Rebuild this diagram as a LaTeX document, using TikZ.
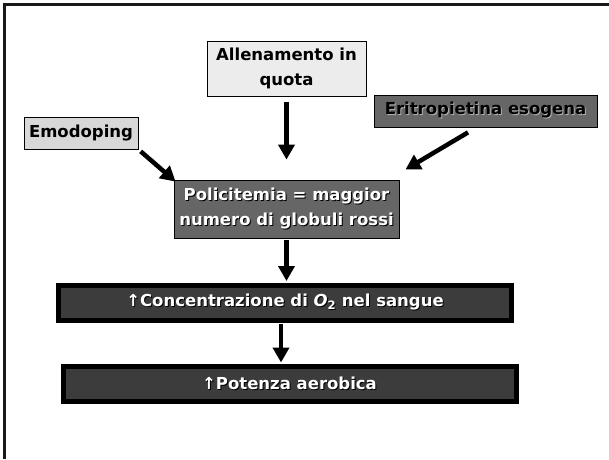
\documentclass[tikz,border=0pt]{standalone}
\usepackage{fontspec}
\setmainfont{DejaVu Sans}
\usepackage{xcolor}
\definecolor{boxlight}{RGB}{236,236,236}
\definecolor{boxpale}{RGB}{216,216,216}
\definecolor{boxmid}{RGB}{102,102,102}
\definecolor{boxdark}{RGB}{60,60,60}
\definecolor{framegray}{RGB}{25,25,25}
\usetikzlibrary{arrows.meta,positioning,calc}
\newcommand\shtext[3]{\makebox[0pt][l]{\kern1pt\raisebox{-1pt}{\color{#1}#3}}{\color{#2}#3}}

\begin{document}
\begin{tikzpicture}[x=1pt,y=-1pt,
  bx/.style={draw,line width=0.8pt,inner sep=0pt,align=center,font=\fontsize{16.5}{25}\selectfont\bfseries},
  wide/.style={bx,draw=black,line width=5pt,fill=boxdark,minimum width=453pt,minimum height=35pt},
  arr/.style={-{Triangle[width=16pt,length=15pt]},line width=4.5pt,black}]
  \useasboundingbox (0,0) rectangle (609,459);
  % slide frame
  \draw[line width=2.5pt,framegray] (4.5,459) -- (4.5,4.5) -- (609,4.5);
  \node[bx,fill=boxlight,minimum width=159pt,minimum height=55pt] (allen) at (286.5,68.5) {Allenamento in\\quota};
  \node[bx,fill=boxpale,minimum width=114pt,minimum height=32pt] (emo) at (81,133) {Emodoping};
  \node[bx,fill=boxmid,minimum width=223pt,minimum height=32pt] (eritro) at (485.5,111) {\shtext{gray!60}{black}{Eritropietina esogena}};
  \node[bx,fill=boxmid,minimum width=225pt,minimum height=58pt] (poli) at (286.5,209) {\shtext{black}{white}{Policitemia = maggior}\\\shtext{black}{white}{numero di globuli rossi}};
  \node[wide] (conc) at (285,303) {\shtext{black}{white}{↑Concentrazione di \textit{O}\textsubscript{2} nel sangue}};
  \node[wide] (pot) at (289.5,383.5) {\shtext{black}{white}{↑Potenza aerobica}};
  % causes
  \draw[arr,shorten <=6pt,shorten >=20pt] (allen.south) -- (allen.south |- poli.north);
  \draw[arr,shorten <=3pt] (emo.south east) -- ([xshift=2pt,yshift=-2pt]poli.north west);
  \draw[arr] ([xshift=-17.5pt,yshift=-5pt]eritro.south) -- ([xshift=6pt,yshift=10pt]poli.north east);
  % effects
  \draw[arr,shorten <=2pt,shorten >=2pt] (poli.south) -- (poli.south |- conc.north);
  \draw[arr,shorten <=1pt,shorten >=1pt] ([xshift=-4pt]conc.south) -- ([xshift=-4pt]conc.south |- pot.north);
\end{tikzpicture}
\end{document}
